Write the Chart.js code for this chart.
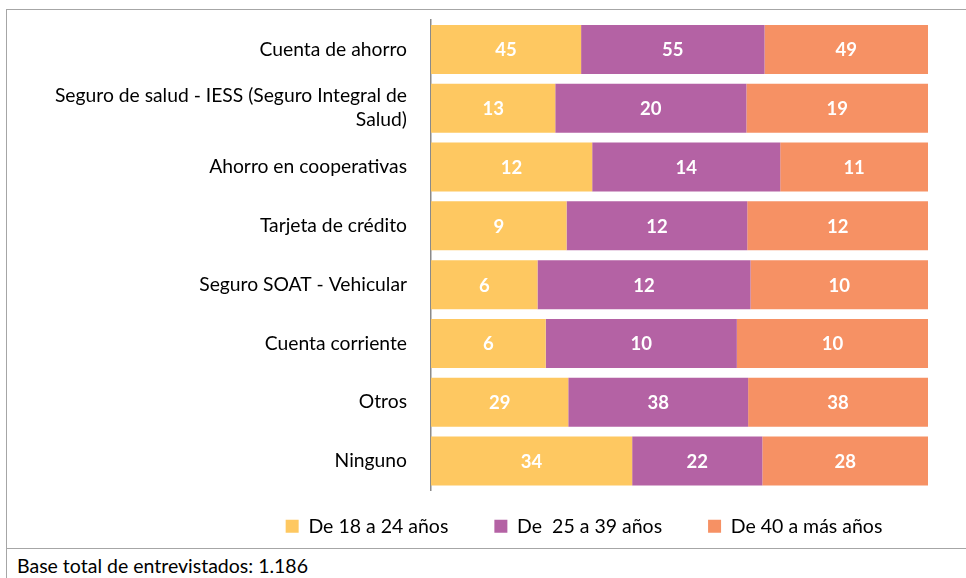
<!DOCTYPE html>
<html lang="es">
<head>
<meta charset="utf-8">
<title>Productos financieros por edad</title>
<script src="https://cdn.jsdelivr.net/npm/chart.js@4.4.1/dist/chart.umd.min.js"></script>
<style>
    html, body { margin: 0; padding: 0; background: #fff; overflow: hidden; }
    body { width: 966px; height: 578px; position: relative; font-family: Lato, 'Open Sans', sans-serif; }
    .frame {
        position: absolute; left: 6px; top: 9px; width: 1000px; height: 540px;
        border: 1px solid #a6a6a6; box-sizing: border-box;
    }
    .footer {
        position: absolute; left: 6px; top: 548px; width: 1000px; height: 40px;
        border-left: 1px solid #a6a6a6; box-sizing: border-box;
        font-size: 19.5px; color: #000; padding-left: 10px;
    }
    .footer span { position: absolute; left: 10px; top: 6px; }
    #chart-box { position: absolute; left: 7px; top: 10px; width: 959px; height: 556px; }
</style>
</head>
<body>
<div class="frame"></div>
<div class="footer"><span>Base total de entrevistados: 1.186</span></div>
<div id="chart-box"><canvas id="chart"></canvas></div>

<script>
// ── Data ───────────────────────────────────────────────
const categories = [
    'Cuenta de ahorro',
    ['Seguro de salud - IESS (Seguro Integral de', 'Salud)'],
    'Ahorro en cooperativas',
    'Tarjeta de crédito',
    'Seguro SOAT - Vehicular',
    'Cuenta corriente',
    'Otros',
    'Ninguno'
];
const seriesNames = ['De 18 a 24 años', 'De  25 a 39 años', 'De 40 a más años'];
const age18to24 = [45, 13, 12, 9, 6, 6, 29, 34];
const age25to39 = [55, 20, 14, 12, 12, 10, 38, 22];
const age40plus = [49, 19, 11, 12, 10, 10, 38, 28];
const seriesColors = ['#fec861', '#b462a4', '#f69164'];

(function() {
    'use strict';

    const raw = [age18to24, age25to39, age40plus];
    const totals = categories.map((_, i) => raw.reduce((s, arr) => s + arr[i], 0));
    // bars fill 100% per row, labels show the raw counts
    const share = arr => arr.map((v, i) => v / totals[i] * 100);

    const FONT = "Lato, 'Open Sans', sans-serif";

    // ── Value labels inside the segments ──────────────────
    const valueLabels = {
        id: 'valueLabels',
        afterDatasetsDraw(chart) {
            const ctx = chart.ctx;
            ctx.save();
            ctx.fillStyle = '#fff';
            ctx.font = 'bold 18.5px ' + FONT;
            ctx.textAlign = 'center';
            ctx.textBaseline = 'middle';
            chart.data.datasets.forEach((ds, di) => {
                chart.getDatasetMeta(di).data.forEach((bar, i) => {
                    const cx = (bar.x + bar.base) / 2;
                    ctx.fillText(String(raw[di][i]), cx, bar.y + 1);
                });
            });
            ctx.restore();
        }
    };

    // ── Legend placement (centered under the bars like the original) ──
    const legendNudge = {
        id: 'legendNudge',
        afterLayout(chart, args, opts) {
            const lg = chart.legend;
            if (!lg) return;
            lg.left += opts.dx; lg.right += opts.dx;
            lg.top += opts.dy; lg.bottom += opts.dy;
        }
    };

    const ctx = document.getElementById('chart').getContext('2d');
    new Chart(ctx, {
        type: 'bar',
        data: {
            labels: categories,
            datasets: raw.map((arr, di) => ({
                label: seriesNames[di],
                data: share(arr),
                backgroundColor: seriesColors[di],
                borderWidth: 0,
                barPercentage: 0.834,
                categoryPercentage: 1
            }))
        },
        options: {
            indexAxis: 'y',
            responsive: true,
            maintainAspectRatio: false,
            animation: false,
            layout: { padding: { top: 10, right: 38, left: 0, bottom: 0 } },
            scales: {
                x: { stacked: true, min: 0, max: 100, display: false },
                y: {
                    stacked: true,
                    grid: { display: false, drawTicks: false },
                    border: { display: true, color: '#8a8a8a', width: 1.5 },
                    ticks: {
                        color: '#000',
                        padding: 24,
                        font: { family: FONT, size: 19.3, lineHeight: 1.25 }
                    },
                    afterFit(scale) {
                        scale.width = 424;
                        scale.paddingTop = 0;
                        scale.paddingBottom = 0;
                    }
                }
            },
            plugins: {
                legend: {
                    position: 'bottom',
                    labels: {
                        boxWidth: 13,
                        boxHeight: 13,
                        padding: 46,
                        color: '#000',
                        font: { family: FONT, size: 19.5 }
                    }
                },
                legendNudge: { dx: 116.5, dy: -20 },
                tooltip: { enabled: false }
            }
        },
        plugins: [valueLabels, legendNudge]
    });
})();
</script>
</body>
</html>
